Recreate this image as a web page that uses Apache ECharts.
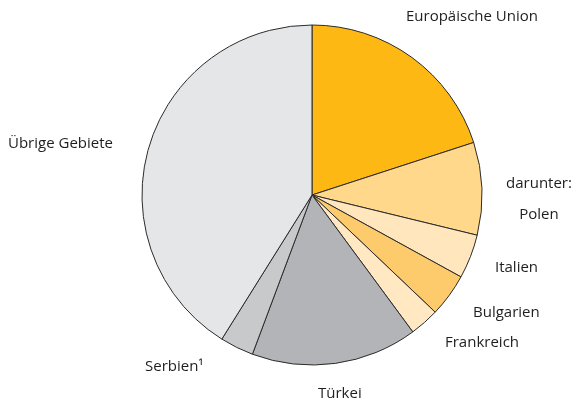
<!DOCTYPE html>
<html>
<head>
<meta charset="utf-8">
<script src="https://cdn.jsdelivr.net/npm/echarts@6/dist/echarts.min.js"></script>
<style>
  html, body { margin: 0; padding: 0; background: #fff; }
  #chart { width: 576px; height: 404px; }
</style>
</head>
<body>
<div id="chart"></div>
<script>
// Shares in percent, clockwise from the top
const categories = ['Europäische Union', 'darunter:\nPolen', 'Italien', 'Bulgarien', 'Frankreich', 'Türkei', 'Serbien¹', 'Übrige Gebiete'];
const shares = [20.0, 8.8, 4.2, 4.1, 2.8, 15.8, 3.2, 41.1];
const colors = ['#FDB813', '#FFD88B', '#FFE6BC', '#FDCB6B', '#FFE8C2', '#B3B4B7', '#C8C9CB', '#E5E6E8'];

// label anchor points [x, y, align]
const labelSpots = [
  [406, 17, 'left'],
  [539, 199, 'center'],
  [495, 268, 'left'],
  [473, 313, 'left'],
  [445, 343, 'left'],
  [318, 394, 'left'],
  [145, 367, 'left'],
  [8, 144, 'left']
];

const chart = echarts.init(document.getElementById('chart'), null, { renderer: 'canvas' });

chart.setOption({
  animation: false,
  series: [{
    type: 'pie',
    center: [312, 195],
    radius: 170,
    startAngle: 90,
    clockwise: true,
    avoidLabelOverlap: false,
    itemStyle: { borderColor: '#2b2b2b', borderWidth: 1 },
    label: {
      show: true,
      position: 'outside',
      formatter: '{b}',
      fontFamily: 'Open Sans',
      fontSize: 15,
      color: '#1e1e1e',
      lineHeight: 31
    },
    labelLine: { show: false },
    labelLayout: function (p) {
      const s = labelSpots[p.dataIndex];
      return { x: s[0], y: s[1], align: s[2], verticalAlign: 'middle' };
    },
    emphasis: { disabled: true },
    data: categories.map((name, i) => ({
      name: name,
      value: shares[i],
      itemStyle: { color: colors[i] }
    }))
  }]
});
</script>
</body>
</html>
